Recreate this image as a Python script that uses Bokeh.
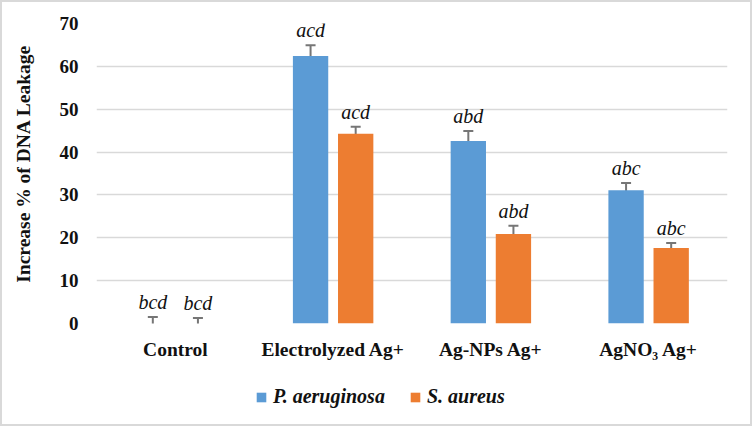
from bokeh.plotting import figure
from bokeh.layouts import column
from bokeh.models import (FactorRange, Range1d, ColumnDataSource, Whisker, TeeHead,
                          Legend, LegendItem, FixedTicker)
from bokeh.transform import dodge
from bokeh.core.properties import value
from bokeh.embed import file_html
from bokeh.resources import INLINE

# Treatments and measured DNA leakage increase (%) for each strain
categories = ["Control", "Electrolyzed Ag+", "Ag-NPs Ag+", "AgNO\u2083 Ag+"]
p_aeruginosa = [0.0, 62.4, 42.6, 31.1]
p_aeruginosa_err = [1.5, 2.5, 2.3, 1.7]
s_aureus = [0.0, 44.3, 20.9, 17.6]
s_aureus_err = [1.3, 1.6, 1.9, 1.2]
p_letters = ["bcd", "acd", "abd", "abc"]
s_letters = ["bcd", "acd", "abd", "abc"]
series_names = ["P. aeruginosa", "S. aureus"]
y_ticks = [0, 10, 20, 30, 40, 50, 60, 70]

BLUE = "#5B9BD5"
ORANGE = "#ED7D31"
ERR = "#767676"
GRID = "#d9d9d9"
INK = "#111111"
SERIF = "Liberation Serif"

src_p = ColumnDataSource(dict(
    cat=categories, val=p_aeruginosa,
    upper=[v + e for v, e in zip(p_aeruginosa, p_aeruginosa_err)],
    lower=[v - e for v, e in zip(p_aeruginosa, p_aeruginosa_err)],
    lab=p_letters))
src_s = ColumnDataSource(dict(
    cat=categories, val=s_aureus,
    upper=[v + e for v, e in zip(s_aureus, s_aureus_err)],
    lower=[v - e for v, e in zip(s_aureus, s_aureus_err)],
    lab=s_letters))

# main chart
p = figure(width=748, height=372, output_backend="svg", toolbar_location=None,
           x_range=FactorRange(*categories, range_padding=0, factor_padding=0),
           y_range=Range1d(0, 70),
           min_border_left=94, min_border_right=23, min_border_top=21, min_border_bottom=51)

OFF = 0.143
W = 0.224

p.vbar(x=dodge("cat", -OFF, range=p.x_range), top="val", width=W, source=src_p,
       fill_color=BLUE, line_color=None)
p.vbar(x=dodge("cat", OFF, range=p.x_range), top="val", width=W, source=src_s,
       fill_color=ORANGE, line_color=None)

for src, off in ((src_p, -OFF), (src_s, OFF)):
    w = Whisker(source=src, base=dodge("cat", off, range=p.x_range), upper="upper", lower="lower",
                line_color=ERR, line_width=2,
                upper_head=TeeHead(size=10, line_color=ERR, line_width=2),
                lower_head=TeeHead(size=10, line_color=ERR, line_width=2))
    p.add_layout(w)
    # significance letters floated just above each error bar
    p.text(x=dodge("cat", off, range=p.x_range), y="upper", text="lab", source=src,
           text_font=value(SERIF), text_font_style="italic", text_font_size="20px",
           text_color=INK, text_align="center", text_baseline="bottom", y_offset=-4)

p.yaxis.ticker = FixedTicker(ticks=y_ticks)
# leading no-break spaces lift the rotated title slightly above the frame's centre
p.yaxis.axis_label = "\u00a0\u00a0\u00a0\u00a0Increase % of DNA Leakage"
p.yaxis.axis_label_text_font = SERIF
p.yaxis.axis_label_text_font_style = "bold"
p.yaxis.axis_label_text_font_size = "19.5px"
p.yaxis.axis_label_text_color = INK
p.yaxis.axis_label_standoff = 23
p.yaxis.major_label_text_font = SERIF
p.yaxis.major_label_text_font_style = "bold"
p.yaxis.major_label_text_font_size = "19px"
p.yaxis.major_label_text_color = INK
p.yaxis.major_label_standoff = 18

p.xaxis.major_label_text_font = SERIF
p.xaxis.major_label_text_font_style = "bold"
p.xaxis.major_label_text_font_size = "19.5px"
p.xaxis.major_label_text_color = INK
p.xaxis.major_label_standoff = 15

for ax in (p.xaxis, p.yaxis):
    ax.axis_line_color = None
    ax.major_tick_line_color = None
    ax.minor_tick_line_color = None
    ax.major_tick_out = 0
    ax.major_tick_in = 0
    ax.minor_tick_out = 0
    ax.minor_tick_in = 0

p.xgrid.grid_line_color = None
p.ygrid.grid_line_color = GRID
p.ygrid.grid_line_width = 1.5
p.outline_line_color = None

# legend strip under the chart; its bars have zero height so only the key shows
lg = figure(width=748, height=50, output_backend="svg", toolbar_location=None,
            x_range=Range1d(0, 1), y_range=Range1d(0, 1),
            x_axis_location=None, y_axis_location=None,
            min_border=0, min_border_left=0, min_border_right=0,
            min_border_top=0, min_border_bottom=0)
lg.outline_line_color = None
lg.border_fill_color = "white"
lg.background_fill_color = "white"
for g in lg.grid:
    g.visible = False
    g.grid_line_color = None
lg.center = []
r1 = lg.vbar(x=[0.5], top=[0], width=0.01, fill_color=BLUE, line_color=None)
r2 = lg.vbar(x=[0.5], top=[0], width=0.01, fill_color=ORANGE, line_color=None)
legend = Legend(items=[LegendItem(label=series_names[0], renderers=[r1]),
                       LegendItem(label=series_names[1], renderers=[r2])],
                location=(159, 16), orientation="horizontal",
                label_text_font=SERIF, label_text_font_style="bold italic",
                label_text_font_size="20px", label_text_color=INK,
                glyph_width=12, glyph_height=12, label_standoff=6, spacing=24,
                padding=0, margin=0, border_line_color=None, background_fill_alpha=0)
lg.add_layout(legend)

page = column(p, lg, spacing=0, styles={"border": "2px solid #d9d9d9"})

open("out.html", "w").write(file_html(page, INLINE))
